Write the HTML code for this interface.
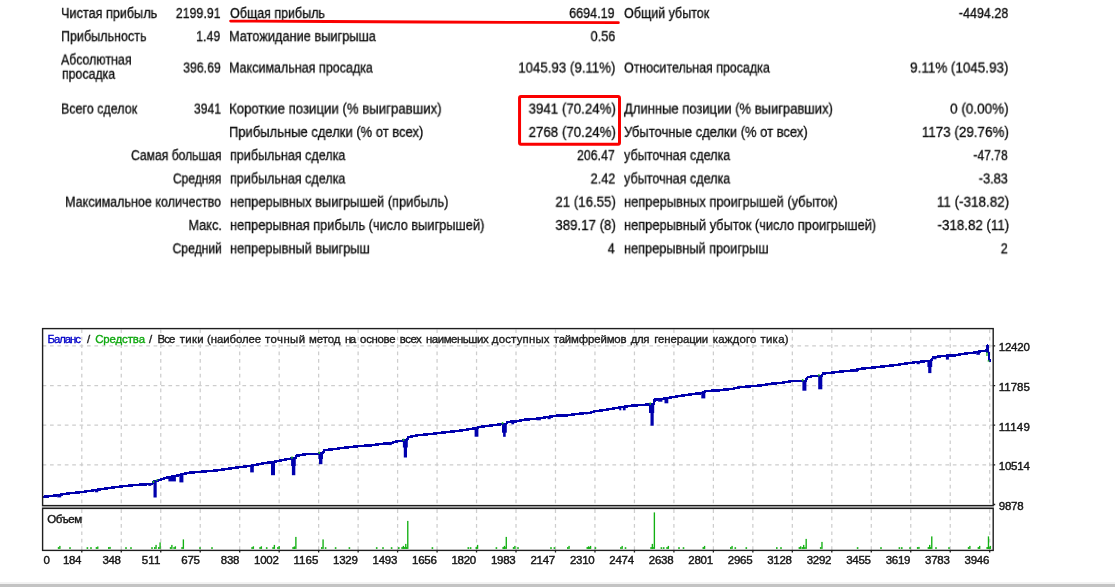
<!DOCTYPE html>
<html lang="ru">
<head>
<meta charset="utf-8">
<title>Strategy Tester Report</title>
<style>
html,body{margin:0;padding:0;background:#fff;}
body{width:1115px;height:587px;position:relative;overflow:hidden;font-family:"Liberation Sans",sans-serif;}
.stats{position:absolute;left:0;top:0;width:1115px;height:290px;will-change:transform;}
.t{position:absolute;white-space:pre;font-size:14px;line-height:16px;height:16px;color:#0c0c0c;-webkit-text-stroke:0.3px #0c0c0c;}
.l{transform-origin:0 0;}
.r{transform-origin:100% 0;}
.chart{position:absolute;left:0;top:0;}
.bar{position:absolute;left:0;top:584px;width:1115px;height:3px;background:#c3c3c3;}
.bar2{position:absolute;left:0;top:582px;width:1115px;height:2px;background:#f2f2f2;}
</style>
</head>
<body>
<div class="stats">
<span class="t l" style="left:60.60px;top:5px;transform:translate3d(0,0.05px,0) scaleX(0.9048)">Чистая прибыль</span>
<span class="t r" style="right:894.29px;top:5px;transform:translate3d(0,0.05px,0) scaleX(0.8855)">2199.91</span>
<span class="t l" style="left:229.80px;top:5px;transform:translate3d(0,0.05px,0) scaleX(0.8924)">Общая прибыль</span>
<span class="t r" style="right:500.19px;top:5px;transform:translate3d(0,0.05px,0) scaleX(0.8973)">6694.19</span>
<span class="t l" style="left:623.90px;top:5px;transform:translate3d(0,0.05px,0) scaleX(0.8926)">Общий убыток</span>
<span class="t r" style="right:107.09px;top:5px;transform:translate3d(0,0.05px,0) scaleX(0.8958)">-4494.28</span>
<span class="t l" style="left:60.60px;top:28px;transform:translate3d(0,0.15px,0) scaleX(0.8955)">Прибыльность</span>
<span class="t r" style="right:894.29px;top:28px;transform:translate3d(0,0.15px,0) scaleX(0.8843)">1.49</span>
<span class="t l" style="left:228.89px;top:28px;transform:translate3d(0,0.15px,0) scaleX(0.9134)">Матожидание выигрыша</span>
<span class="t r" style="right:500.19px;top:28px;transform:translate3d(0,0.15px,0) scaleX(0.9050)">0.56</span>
<span class="t l" style="left:61.30px;top:51px;transform:translate3d(0,0.55px,0) scaleX(0.8847)">Абсолютная</span>
<span class="t l" style="left:61.60px;top:65px;transform:translate3d(0,0.80px,0) scaleX(0.8804)">просадка</span>
<span class="t r" style="right:894.29px;top:59px;transform:translate3d(0,0.55px,0) scaleX(0.8784)">396.69</span>
<span class="t l" style="left:228.91px;top:59px;transform:translate3d(0,0.55px,0) scaleX(0.8944)">Максимальная просадка</span>
<span class="t r" style="right:499.37px;top:59px;transform:translate3d(0,0.55px,0) scaleX(0.9493)">1045.93 (9.11%)</span>
<span class="t l" style="left:623.90px;top:59px;transform:translate3d(0,0.55px,0) scaleX(0.8891)">Относительная просадка</span>
<span class="t r" style="right:106.26px;top:59px;transform:translate3d(0,0.55px,0) scaleX(0.9606)">9.11% (1045.93)</span>
<span class="t l" style="left:60.61px;top:100px;transform:translate3d(0,0.60px,0) scaleX(0.8920)">Всего сделок</span>
<span class="t r" style="right:894.29px;top:100px;transform:translate3d(0,0.60px,0) scaleX(0.8738)">3941</span>
<span class="t l" style="left:228.86px;top:100px;transform:translate3d(0,0.60px,0) scaleX(0.9431)">Короткие позиции (% выигравших)</span>
<span class="t r" style="right:499.37px;top:100px;transform:translate3d(0,0.60px,0) scaleX(0.9498)">3941 (70.24%)</span>
<span class="t l" style="left:623.90px;top:100px;transform:translate3d(0,0.60px,0) scaleX(0.9288)">Длинные позиции (% выигравших)</span>
<span class="t r" style="right:106.26px;top:100px;transform:translate3d(0,0.60px,0) scaleX(0.9661)">0 (0.00%)</span>
<span class="t l" style="left:228.87px;top:123px;transform:translate3d(0,0.90px,0) scaleX(0.9277)">Прибыльные сделки (% от всех)</span>
<span class="t r" style="right:499.37px;top:123px;transform:translate3d(0,0.90px,0) scaleX(0.9498)">2768 (70.24%)</span>
<span class="t l" style="left:623.90px;top:123px;transform:translate3d(0,0.90px,0) scaleX(0.9280)">Убыточные сделки (% от всех)</span>
<span class="t r" style="right:106.27px;top:123px;transform:translate3d(0,0.90px,0) scaleX(0.9580)">1173 (29.76%)</span>
<span class="t r" style="right:893.60px;top:147px;transform:translate3d(0,0.15px,0) scaleX(0.8661)">Самая большая</span>
<span class="t l" style="left:229.80px;top:147px;transform:translate3d(0,0.15px,0) scaleX(0.8967)">прибыльная сделка</span>
<span class="t r" style="right:500.19px;top:147px;transform:translate3d(0,0.15px,0) scaleX(0.8830)">206.47</span>
<span class="t l" style="left:623.90px;top:147px;transform:translate3d(0,0.15px,0) scaleX(0.8999)">убыточная сделка</span>
<span class="t r" style="right:107.09px;top:147px;transform:translate3d(0,0.15px,0) scaleX(0.8669)">-47.78</span>
<span class="t r" style="right:893.60px;top:170px;transform:translate3d(0,0.45px,0) scaleX(0.8593)">Средняя</span>
<span class="t l" style="left:229.80px;top:170px;transform:translate3d(0,0.45px,0) scaleX(0.8967)">прибыльная сделка</span>
<span class="t r" style="right:500.19px;top:170px;transform:translate3d(0,0.45px,0) scaleX(0.9050)">2.42</span>
<span class="t l" style="left:623.90px;top:170px;transform:translate3d(0,0.45px,0) scaleX(0.8999)">убыточная сделка</span>
<span class="t r" style="right:107.10px;top:170px;transform:translate3d(0,0.45px,0) scaleX(0.9152)">-3.83</span>
<span class="t r" style="right:894.29px;top:193px;transform:translate3d(0,0.75px,0) scaleX(0.8961)">Максимальное количество</span>
<span class="t l" style="left:229.80px;top:193px;transform:translate3d(0,0.75px,0) scaleX(0.9188)">непрерывных выигрышей (прибыль)</span>
<span class="t r" style="right:499.37px;top:193px;transform:translate3d(0,0.75px,0) scaleX(0.9468)">21 (16.55)</span>
<span class="t l" style="left:623.90px;top:193px;transform:translate3d(0,0.75px,0) scaleX(0.9211)">непрерывных проигрышей (убыток)</span>
<span class="t r" style="right:106.26px;top:193px;transform:translate3d(0,0.75px,0) scaleX(0.9624)">11 (-318.82)</span>
<span class="t r" style="right:893.29px;top:217px;transform:translate3d(0,0.05px,0) scaleX(0.9058)">Макс.</span>
<span class="t l" style="left:229.80px;top:217px;transform:translate3d(0,0.05px,0) scaleX(0.9144)">непрерывная прибыль (число выигрышей)</span>
<span class="t r" style="right:499.37px;top:217px;transform:translate3d(0,0.05px,0) scaleX(0.9468)">389.17 (8)</span>
<span class="t l" style="left:623.90px;top:217px;transform:translate3d(0,0.05px,0) scaleX(0.9169)">непрерывный убыток (число проигрышей)</span>
<span class="t r" style="right:106.27px;top:217px;transform:translate3d(0,0.05px,0) scaleX(0.9535)">-318.82 (11)</span>
<span class="t r" style="right:893.39px;top:240px;transform:translate3d(0,0.35px,0) scaleX(0.8664)">Средний</span>
<span class="t l" style="left:229.80px;top:240px;transform:translate3d(0,0.35px,0) scaleX(0.9133)">непрерывный выигрыш</span>
<span class="t r" style="right:500.19px;top:240px;transform:translate3d(0,0.35px,0) scaleX(0.9050)">4</span>
<span class="t l" style="left:623.90px;top:240px;transform:translate3d(0,0.35px,0) scaleX(0.9110)">непрерывный проигрыш</span>
<span class="t r" style="right:107.09px;top:240px;transform:translate3d(0,0.35px,0) scaleX(0.9050)">2</span>
</div>
<svg class="chart" width="1115" height="587" viewBox="0 0 1115 587">
<g stroke="#cdcdcd" stroke-width="1.25" stroke-dasharray="3.7 3.7" fill="none"><path d="M42.6 345.9 H993.2 M42.6 385.6 H993.2 M42.6 425.2 H993.2 M42.6 464.9 H993.2"/><path d="M81.80 328.6 V505.6 M81.80 508.4 V550.4 M121.27 328.6 V505.6 M121.27 508.4 V550.4 M160.75 328.6 V505.6 M160.75 508.4 V550.4 M200.22 328.6 V505.6 M200.22 508.4 V550.4 M239.70 328.6 V505.6 M239.70 508.4 V550.4 M279.17 328.6 V505.6 M279.17 508.4 V550.4 M318.64 328.6 V505.6 M318.64 508.4 V550.4 M358.12 328.6 V505.6 M358.12 508.4 V550.4 M397.59 328.6 V505.6 M397.59 508.4 V550.4 M437.07 328.6 V505.6 M437.07 508.4 V550.4 M476.54 328.6 V505.6 M476.54 508.4 V550.4 M516.01 328.6 V505.6 M516.01 508.4 V550.4 M555.49 328.6 V505.6 M555.49 508.4 V550.4 M594.96 328.6 V505.6 M594.96 508.4 V550.4 M634.44 328.6 V505.6 M634.44 508.4 V550.4 M673.91 328.6 V505.6 M673.91 508.4 V550.4 M713.38 328.6 V505.6 M713.38 508.4 V550.4 M752.86 328.6 V505.6 M752.86 508.4 V550.4 M792.33 328.6 V505.6 M792.33 508.4 V550.4 M831.81 328.6 V505.6 M831.81 508.4 V550.4 M871.28 328.6 V505.6 M871.28 508.4 V550.4 M910.75 328.6 V505.6 M910.75 508.4 V550.4 M950.23 328.6 V505.6 M950.23 508.4 V550.4 M989.70 328.6 V505.6 M989.70 508.4 V550.4" stroke-dashoffset="-0.8"/></g>
<path d="M81.80 550.4 v2.2 M121.27 550.4 v2.2 M160.75 550.4 v2.2 M200.22 550.4 v2.2 M239.70 550.4 v2.2 M279.17 550.4 v2.2 M318.64 550.4 v2.2 M358.12 550.4 v2.2 M397.59 550.4 v2.2 M437.07 550.4 v2.2 M476.54 550.4 v2.2 M516.01 550.4 v2.2 M555.49 550.4 v2.2 M594.96 550.4 v2.2 M634.44 550.4 v2.2 M673.91 550.4 v2.2 M713.38 550.4 v2.2 M752.86 550.4 v2.2 M792.33 550.4 v2.2 M831.81 550.4 v2.2 M871.28 550.4 v2.2 M910.75 550.4 v2.2 M950.23 550.4 v2.2 M989.70 550.4 v2.2 M993.2 345.9 h2 M993.2 385.6 h2 M993.2 425.2 h2 M993.2 464.9 h2 M993.2 504.5 h2" stroke="#222" stroke-width="1.3" fill="none"/>
<path d="M43.3 496.8 L54.0 495.7 L66.9 493.6 L83.1 491.9 L93.8 490.3 L104.6 488.7 L120.7 486.5 L136.9 484.9 L147.6 484.2 L152.3 483.8 L153.6 481.7 L158.8 480.2 L164.8 478.1 L175.5 476.0 L188.4 472.8 L215.3 470.6 L240.1 467.1 L252.0 465.6 L255.4 465.0 L262.9 463.4 L270.5 462.3 L276.9 461.2 L286.6 459.3 L291.4 458.5 L295.4 458.2 L296.3 455.8 L306.0 454.2 L316.7 453.9 L322.8 453.4 L324.3 450.2 L331.8 449.4 L341.5 448.1 L351.2 447.0 L360.9 445.9 L370.8 445.4 L381.5 443.8 L390.1 443.5 L396.6 441.4 L401.4 440.8 L407.0 440.4 L408.4 437.1 L416.0 435.5 L426.7 434.4 L437.0 433.3 L446.1 432.2 L456.9 431.1 L467.6 429.5 L474.1 428.5 L479.7 427.0 L487.2 426.0 L498.0 424.6 L501.8 424.1 L506.2 423.8 L507.7 421.9 L517.4 421.2 L523.8 419.8 L534.6 418.9 L545.3 417.4 L556.1 415.7 L566.9 415.5 L573.3 414.4 L583.0 413.3 L590.0 412.8 L594.0 411.4 L604.8 410.0 L615.5 408.1 L631.7 405.7 L642.4 404.9 L648.9 404.6 L653.6 404.2 L654.8 399.5 L661.8 399.0 L671.5 397.4 L676.9 396.3 L687.6 394.9 L696.5 393.5 L701.5 393.2 L706.0 391.0 L708.3 390.8 L718.0 390.6 L722.3 389.8 L733.0 388.9 L738.4 387.4 L748.1 386.5 L760.0 385.5 L770.7 383.8 L781.5 382.8 L792.3 381.1 L801.9 381.1 L805.8 380.6 L807.3 377.5 L811.8 376.2 L817.8 376.2 L821.6 375.8 L823.1 373.5 L831.2 372.8 L842.0 371.4 L851.7 370.6 L861.4 368.7 L871.0 367.8 L881.8 366.5 L886.5 366.1 L896.1 365.0 L906.9 363.4 L916.6 362.1 L925.2 361.2 L931.4 360.6 L933.3 357.1 L940.3 356.4 L944.6 355.8 L955.3 355.3 L964.0 353.7 L972.6 352.8 L982.3 351.0 L985.6 350.9 L986.4 350.2 L987.6 345.6 L987.6 352 L988.9 352.6 L988.9 360.3 L990.6 360.3" stroke="#0000ad" stroke-width="2.5" fill="none" stroke-linejoin="round" stroke-linecap="butt" shape-rendering="crispEdges"/>
<g fill="#0000ad"><rect x="153.5" y="480.8" width="3.2" height="16.7"/><rect x="168.4" y="476.1" width="7.5" height="5.3"/><rect x="179.4" y="474.0" width="4.0" height="8.4"/><rect x="250.2" y="465.1" width="3.6" height="7.3"/><rect x="271.0" y="461.4" width="4.0" height="13.8"/><rect x="291.9" y="457.8" width="3.4" height="17.4"/><rect x="291.1" y="457.9" width="4.6" height="8.1"/><rect x="319.0" y="453.1" width="3.4" height="11.1"/><rect x="318.4" y="453.1" width="4.6" height="5.9"/><rect x="403.8" y="440.0" width="3.2" height="17.5"/><rect x="402.9" y="440.0" width="4.9" height="7.5"/><rect x="474.6" y="427.4" width="3.8" height="9.3"/><rect x="503.1" y="423.4" width="2.6" height="13.4"/><rect x="502.0" y="423.4" width="4.8" height="9.3"/><rect x="650.5" y="403.8" width="3.2" height="21.9"/><rect x="649.0" y="403.9" width="5.2" height="9.1"/><rect x="658.1" y="398.6" width="4.3" height="3.1"/><rect x="664.5" y="397.7" width="3.8" height="5.6"/><rect x="701.3" y="391.8" width="4.0" height="6.6"/><rect x="802.4" y="380.3" width="4.0" height="10.4"/><rect x="818.2" y="375.4" width="4.1" height="13.9"/><rect x="853.4" y="369.3" width="4.6" height="2.6"/><rect x="928.2" y="360.3" width="3.2" height="12.8"/><rect x="927.4" y="360.3" width="4.8" height="6.7"/><rect x="933.3" y="356.4" width="3.2" height="2.9"/><rect x="945.9" y="355.2" width="3.0" height="4.4"/><rect x="976.3" y="351.3" width="3.6" height="3.5"/><rect x="916.6" y="361.4" width="3.2" height="2.8"/><rect x="57.2" y="494.4" width="4" height="3.0"/><rect x="94.8" y="489.4" width="3.4" height="2.9"/><rect x="148.3" y="483.5" width="3" height="2.4"/><rect x="511.4" y="421.0" width="2.7" height="3.3"/><rect x="536.6" y="417.8" width="4.3" height="2.5"/><rect x="547.5" y="416.3" width="3.2" height="2.9"/><rect x="585.2" y="412.6" width="2.5" height="1.8"/><rect x="619.2" y="406.9" width="2.1" height="3.4"/><rect x="622.9" y="406.3" width="2.7" height="4.0"/><rect x="675.6" y="395.8" width="2.5" height="2.2"/><rect x="746.6" y="386.0" width="2.7" height="2.1"/><rect x="389.0" y="442.9" width="2.8" height="2.2"/></g>
<g fill="#22b022"><rect x="152.7" y="480.8" width="1.5" height="2.2"/><rect x="291.2" y="456.5" width="1.5" height="2.2"/><rect x="318.5" y="451.7" width="1.5" height="2.2"/><rect x="402.8" y="438.7" width="1.5" height="2.2"/><rect x="501.8" y="422.1" width="1.5" height="2.2"/><rect x="649.5" y="402.5" width="1.5" height="2.2"/><rect x="801.9" y="379.1" width="1.5" height="2.2"/><rect x="818.1" y="374.1" width="1.5" height="2.2"/><rect x="156.2" y="479.4" width="1.8" height="1.3"/><rect x="986.3" y="352.2" width="1.3" height="3.8"/><rect x="987.7" y="360.2" width="1.8" height="1.4"/></g>
<g fill="#12b012"><rect x="59.2" y="545.9" width="1.35" height="3.0"/><rect x="57.8" y="547.1" width="1.6" height="1.8"/><rect x="69.2" y="547.2" width="1.6" height="1.7"/><rect x="86.6" y="547.2" width="1.6" height="1.7"/><rect x="90.2" y="547.2" width="1.6" height="1.7"/><rect x="97.1" y="546.5" width="1.35" height="2.4"/><rect x="95.7" y="547.1" width="1.6" height="1.8"/><rect x="109.4" y="546.9" width="1.35" height="2.0"/><rect x="108.0" y="547.1" width="1.6" height="1.8"/><rect x="125.2" y="547.2" width="1.6" height="1.7"/><rect x="130.2" y="547.2" width="1.6" height="1.7"/><rect x="151.2" y="547.2" width="1.6" height="1.7"/><rect x="155.4" y="544.9" width="1.35" height="4.0"/><rect x="154.0" y="547.1" width="1.6" height="1.8"/><rect x="159.4" y="542.4" width="1.35" height="6.5"/><rect x="158.0" y="547.1" width="1.6" height="1.8"/><rect x="171.2" y="544.9" width="1.35" height="4.0"/><rect x="169.8" y="547.1" width="1.6" height="1.8"/><rect x="174.7" y="546.3" width="1.35" height="2.6"/><rect x="173.3" y="547.1" width="1.6" height="1.8"/><rect x="182.7" y="539.4" width="1.35" height="9.5"/><rect x="181.3" y="547.1" width="1.6" height="1.8"/><rect x="199.2" y="547.2" width="1.6" height="1.7"/><rect x="211.2" y="547.2" width="1.6" height="1.7"/><rect x="252.7" y="546.3" width="1.35" height="2.6"/><rect x="251.3" y="547.1" width="1.6" height="1.8"/><rect x="260.7" y="546.3" width="1.35" height="2.6"/><rect x="259.3" y="547.1" width="1.6" height="1.8"/><rect x="265.9" y="547.2" width="1.6" height="1.7"/><rect x="273.7" y="544.9" width="1.35" height="4.0"/><rect x="272.3" y="547.1" width="1.6" height="1.8"/><rect x="278.5" y="546.1" width="1.35" height="2.8"/><rect x="277.1" y="547.1" width="1.6" height="1.8"/><rect x="295.2" y="536.9" width="1.35" height="12.0"/><rect x="293.8" y="547.1" width="1.6" height="1.8"/><rect x="293.7" y="546.4" width="1.35" height="2.5"/><rect x="292.3" y="547.1" width="1.6" height="1.8"/><rect x="322.4" y="539.4" width="1.35" height="9.5"/><rect x="321.0" y="547.1" width="1.6" height="1.8"/><rect x="324.8" y="547.2" width="1.6" height="1.7"/><rect x="334.8" y="547.2" width="1.6" height="1.7"/><rect x="348.6" y="547.2" width="1.6" height="1.7"/><rect x="375.9" y="547.2" width="1.6" height="1.7"/><rect x="382.2" y="547.2" width="1.6" height="1.7"/><rect x="390.8" y="547.2" width="1.6" height="1.7"/><rect x="398.0" y="547.2" width="1.6" height="1.7"/><rect x="402.7" y="545.9" width="1.35" height="3.0"/><rect x="401.3" y="547.1" width="1.6" height="1.8"/><rect x="405.1" y="543.9" width="1.35" height="5.0"/><rect x="403.7" y="547.1" width="1.6" height="1.8"/><rect x="407.1" y="520.9" width="1.35" height="28.0"/><rect x="405.7" y="547.1" width="1.6" height="1.8"/><rect x="431.6" y="547.2" width="1.6" height="1.7"/><rect x="467.5" y="547.2" width="1.6" height="1.7"/><rect x="469.8" y="547.2" width="1.6" height="1.7"/><rect x="476.9" y="544.9" width="1.35" height="4.0"/><rect x="475.5" y="547.1" width="1.6" height="1.8"/><rect x="495.6" y="547.2" width="1.6" height="1.7"/><rect x="503.8" y="545.9" width="1.35" height="3.0"/><rect x="502.4" y="547.1" width="1.6" height="1.8"/><rect x="505.6" y="536.9" width="1.35" height="12.0"/><rect x="504.2" y="547.1" width="1.6" height="1.8"/><rect x="514.2" y="545.9" width="1.35" height="3.0"/><rect x="512.8" y="547.1" width="1.6" height="1.8"/><rect x="517.2" y="547.2" width="1.6" height="1.7"/><rect x="550.2" y="547.2" width="1.6" height="1.7"/><rect x="553.6" y="547.2" width="1.6" height="1.7"/><rect x="568.4" y="545.9" width="1.35" height="3.0"/><rect x="567.0" y="547.1" width="1.6" height="1.8"/><rect x="587.9" y="546.3" width="1.35" height="2.6"/><rect x="586.5" y="547.1" width="1.6" height="1.8"/><rect x="589.9" y="545.9" width="1.35" height="3.0"/><rect x="588.5" y="547.1" width="1.6" height="1.8"/><rect x="594.6" y="547.2" width="1.6" height="1.7"/><rect x="621.5" y="545.9" width="1.35" height="3.0"/><rect x="620.1" y="547.1" width="1.6" height="1.8"/><rect x="624.7" y="547.2" width="1.6" height="1.7"/><rect x="651.7" y="543.9" width="1.35" height="5.0"/><rect x="650.3" y="547.1" width="1.6" height="1.8"/><rect x="653.7" y="512.4" width="1.35" height="36.5"/><rect x="652.3" y="547.1" width="1.6" height="1.8"/><rect x="660.6" y="547.2" width="1.6" height="1.7"/><rect x="662.9" y="547.2" width="1.6" height="1.7"/><rect x="667.7" y="545.9" width="1.35" height="3.0"/><rect x="666.3" y="547.1" width="1.6" height="1.8"/><rect x="678.2" y="547.2" width="1.6" height="1.7"/><rect x="682.7" y="547.2" width="1.6" height="1.7"/><rect x="703.9" y="545.9" width="1.35" height="3.0"/><rect x="702.5" y="547.1" width="1.6" height="1.8"/><rect x="731.4" y="545.9" width="1.35" height="3.0"/><rect x="730.0" y="547.1" width="1.6" height="1.8"/><rect x="734.5" y="547.2" width="1.6" height="1.7"/><rect x="745.5" y="547.2" width="1.6" height="1.7"/><rect x="776.0" y="547.2" width="1.6" height="1.7"/><rect x="780.2" y="547.2" width="1.6" height="1.7"/><rect x="800.0" y="546.3" width="1.35" height="2.6"/><rect x="798.6" y="547.1" width="1.6" height="1.8"/><rect x="803.0" y="544.9" width="1.35" height="4.0"/><rect x="801.6" y="547.1" width="1.6" height="1.8"/><rect x="805.5" y="538.9" width="1.35" height="10.0"/><rect x="804.1" y="547.1" width="1.6" height="1.8"/><rect x="821.3" y="541.9" width="1.35" height="7.0"/><rect x="819.9" y="547.1" width="1.6" height="1.8"/><rect x="856.8" y="547.2" width="1.6" height="1.7"/><rect x="880.2" y="547.2" width="1.6" height="1.7"/><rect x="898.6" y="547.2" width="1.6" height="1.7"/><rect x="901.0" y="547.2" width="1.6" height="1.7"/><rect x="909.2" y="547.2" width="1.6" height="1.7"/><rect x="918.3" y="546.9" width="1.35" height="2.0"/><rect x="916.9" y="547.1" width="1.6" height="1.8"/><rect x="929.0" y="544.9" width="1.35" height="4.0"/><rect x="927.6" y="547.1" width="1.6" height="1.8"/><rect x="931.1" y="536.4" width="1.35" height="12.5"/><rect x="929.7" y="547.1" width="1.6" height="1.8"/><rect x="935.2" y="547.2" width="1.6" height="1.7"/><rect x="948.2" y="547.2" width="1.6" height="1.7"/><rect x="969.2" y="545.9" width="1.35" height="3.0"/><rect x="967.8" y="547.1" width="1.6" height="1.8"/><rect x="979.0" y="545.9" width="1.35" height="3.0"/><rect x="977.6" y="547.1" width="1.6" height="1.8"/><rect x="987.8" y="536.4" width="1.35" height="12.5"/><rect x="986.4" y="547.1" width="1.6" height="1.8"/><rect x="989.7" y="545.9" width="1.35" height="3.0"/><rect x="988.3" y="547.1" width="1.6" height="1.8"/></g>
<path d="M41.9 507.15 H993.9000000000001" stroke="#b6b6b6" stroke-width="1.5" fill="none"/>
<rect x="42.6" y="328.6" width="950.6" height="177.0" fill="none" stroke="#1e1e1e" stroke-width="1.4"/>
<rect x="42.6" y="508.4" width="950.6" height="42.0" fill="none" stroke="#1e1e1e" stroke-width="1.4"/>
<g font-family="Liberation Sans, sans-serif" font-size="11.5" fill="#161616" stroke="#161616" stroke-width="0.42" lengthAdjust="spacingAndGlyphs"><text x="998.8" y="351.4" textLength="31.0">12420</text><text x="998.8" y="391.1" textLength="31.0">11785</text><text x="998.8" y="430.7" textLength="31.0">11149</text><text x="998.8" y="470.4" textLength="31.0">10514</text><text x="998.8" y="510.0" textLength="24.8">9878</text><text x="43.4" y="563.8" textLength="5.6">0</text><text x="81.5" y="563.8" text-anchor="end" textLength="18.6">184</text><text x="121.0" y="563.8" text-anchor="end" textLength="18.6">348</text><text x="160.4" y="563.8" text-anchor="end" textLength="18.6">511</text><text x="199.9" y="563.8" text-anchor="end" textLength="18.6">675</text><text x="239.4" y="563.8" text-anchor="end" textLength="18.6">838</text><text x="278.9" y="563.8" text-anchor="end" textLength="24.8">1002</text><text x="318.3" y="563.8" text-anchor="end" textLength="24.8">1165</text><text x="357.8" y="563.8" text-anchor="end" textLength="24.8">1329</text><text x="397.3" y="563.8" text-anchor="end" textLength="24.8">1493</text><text x="436.8" y="563.8" text-anchor="end" textLength="24.8">1656</text><text x="476.2" y="563.8" text-anchor="end" textLength="24.8">1820</text><text x="515.7" y="563.8" text-anchor="end" textLength="24.8">1983</text><text x="555.2" y="563.8" text-anchor="end" textLength="24.8">2147</text><text x="594.7" y="563.8" text-anchor="end" textLength="24.8">2310</text><text x="634.1" y="563.8" text-anchor="end" textLength="24.8">2474</text><text x="673.6" y="563.8" text-anchor="end" textLength="24.8">2638</text><text x="713.1" y="563.8" text-anchor="end" textLength="24.8">2801</text><text x="752.6" y="563.8" text-anchor="end" textLength="24.8">2965</text><text x="792.0" y="563.8" text-anchor="end" textLength="24.8">3128</text><text x="831.5" y="563.8" text-anchor="end" textLength="24.8">3292</text><text x="871.0" y="563.8" text-anchor="end" textLength="24.8">3455</text><text x="910.5" y="563.8" text-anchor="end" textLength="24.8">3619</text><text x="949.9" y="563.8" text-anchor="end" textLength="24.8">3783</text><text x="989.4" y="563.8" text-anchor="end" textLength="24.8">3946</text><text x="47.2" y="522.6" textLength="35.0">Объем</text></g>
<g font-family="Liberation Sans, sans-serif" font-size="11.4" fill="#1a1a1a" stroke="#1a1a1a" stroke-width="0.35" lengthAdjust="spacingAndGlyphs"><text x="47.5" y="343.2" textLength="33.4" fill="#0000c8" stroke="#0000c8">Баланс</text><text x="87.0" y="343.2" textLength="4.0">/</text><text x="95.2" y="343.2" textLength="49.8" fill="#10a810" stroke="#10a810">Средства</text><text x="149.0" y="343.2" textLength="4.0">/</text><text x="157.5" y="343.2" textLength="17.9">Все</text><text x="179.8" y="343.2" textLength="23.8">тики</text><text x="207.1" y="343.2" textLength="54.1">(наиболее</text><text x="265.0" y="343.2" textLength="40.1">точный</text><text x="308.9" y="343.2" textLength="31.6">метод</text><text x="344.9" y="343.2" textLength="11.1">на</text><text x="360.1" y="343.2" textLength="35.5">основе</text><text x="399.8" y="343.2" textLength="22.0">всех</text><text x="426.0" y="343.2" textLength="62.6">наименьших</text><text x="491.8" y="343.2" textLength="57.7">доступных</text><text x="553.7" y="343.2" textLength="72.9">таймфреймов</text><text x="630.7" y="343.2" textLength="18.7">для</text><text x="654.2" y="343.2" textLength="54.0">генерации</text><text x="712.7" y="343.2" textLength="43.7">каждого</text><text x="760.4" y="343.2" textLength="28.2">тика)</text></g>
<path d="M230.6 21.1 L327 21.5 L425 22.0 L521 22.45 L618.4 22.7" stroke="#fa0000" stroke-width="2.8" fill="none" stroke-linecap="round"/>
<rect x="519.55" y="96.6" width="99.95" height="47.6" rx="1.4" fill="none" stroke="#fa0000" stroke-width="3"/>
</svg>
<div class="bar2"></div><div class="bar"></div>
</body>
</html>
